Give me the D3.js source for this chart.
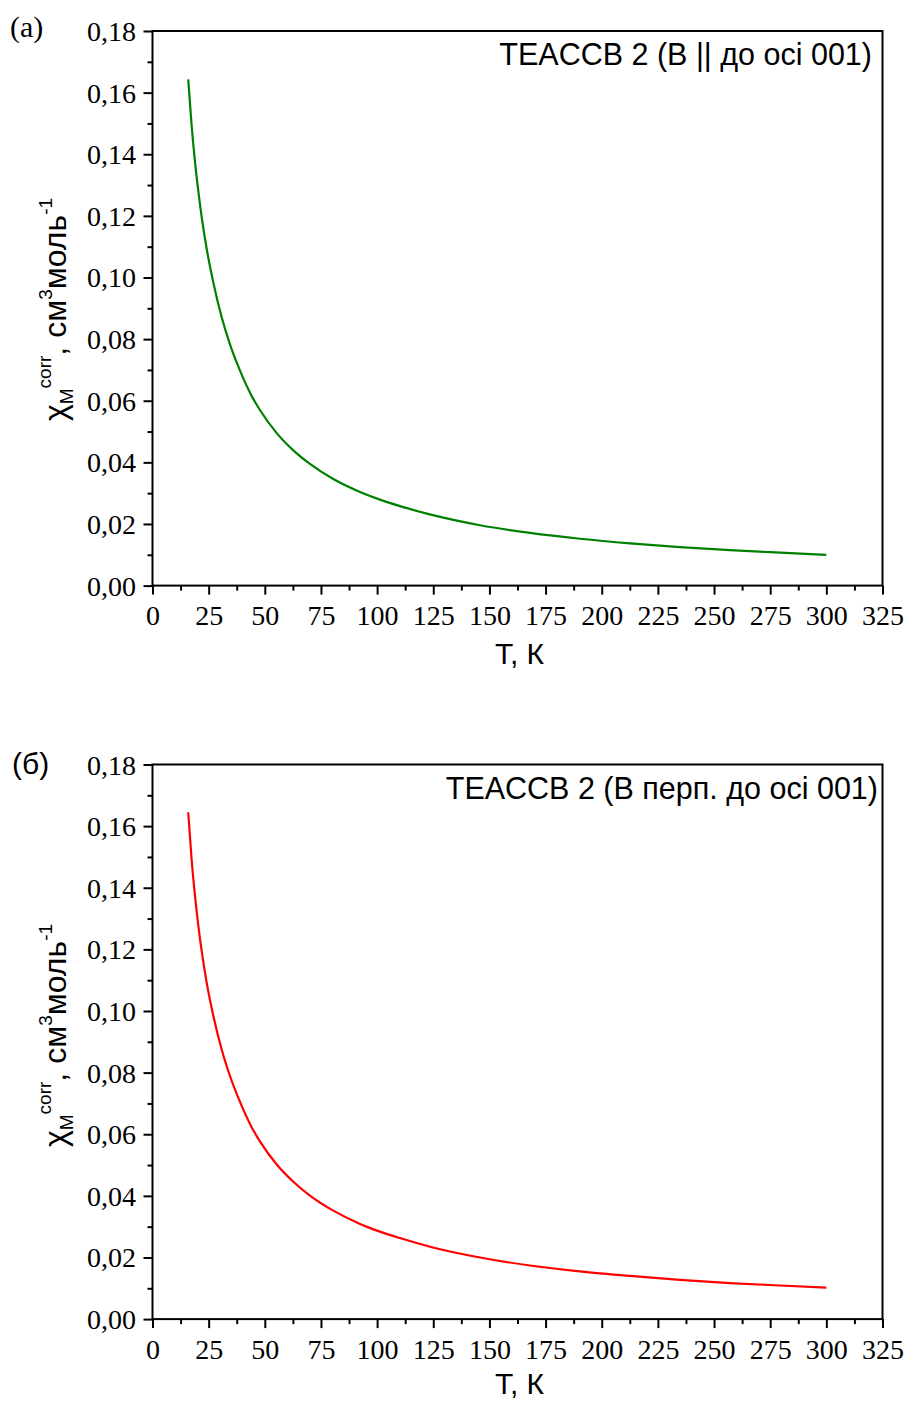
<!DOCTYPE html>
<html>
<head>
<meta charset="utf-8">
<script src="https://cdn.jsdelivr.net/npm/d3@7"></script>
<style>
  body { margin: 0; background: #fff; }
  svg { display: block; }
</style>
</head>
<body>
<svg id="chart" width="906" height="1401"></svg>
<script>
// Temperature (K) and corrected molar susceptibility (cm^3/mol), field parallel to the 001 axis
const tempA = [15.9, 17.4, 18.9, 20.4, 21.9, 24.1, 27.1, 30.8, 34.5, 39.0, 44.2, 47.9, 55.3, 62.7, 70.1, 80.5, 92.4, 101.3, 110.2, 123.5, 145.8, 168.1, 190.3, 212.6, 234.8, 257.1, 279.4, 300.0];
const chiA  = [0.1643, 0.1495, 0.1377, 0.1280, 0.1196, 0.1094, 0.0983, 0.0871, 0.0783, 0.0697, 0.0615, 0.0569, 0.0495, 0.0439, 0.0395, 0.0346, 0.0304, 0.0279, 0.0258, 0.0231, 0.0196, 0.0171, 0.0152, 0.0137, 0.0125, 0.0115, 0.0107, 0.0100];

// Same sample, field perpendicular to the 001 axis
const tempB = [15.9, 17.4, 18.9, 20.4, 21.9, 24.1, 27.1, 30.8, 34.5, 39.0, 44.2, 47.9, 55.3, 62.7, 70.1, 80.5, 92.4, 101.3, 110.2, 123.5, 145.8, 168.1, 190.3, 212.6, 234.8, 257.1, 279.4, 300.0];
const chiB  = [0.1645, 0.1493, 0.1375, 0.1277, 0.1194, 0.1093, 0.0984, 0.0875, 0.0789, 0.0704, 0.0622, 0.0576, 0.0502, 0.0446, 0.0401, 0.0352, 0.0309, 0.0284, 0.0263, 0.0235, 0.0200, 0.0174, 0.0155, 0.0140, 0.0127, 0.0117, 0.0109, 0.0102];

const xTicks = [0, 25, 50, 75, 100, 125, 150, 175, 200, 225, 250, 275, 300, 325];
const xMinorTicks = [12.5, 37.5, 62.5, 87.5, 112.5, 137.5, 162.5, 187.5, 212.5, 237.5, 262.5, 287.5, 312.5];
const yTicks = [0, 0.02, 0.04, 0.06, 0.08, 0.10, 0.12, 0.14, 0.16, 0.18];
const yMinorTicks = [0.01, 0.03, 0.05, 0.07, 0.09, 0.11, 0.13, 0.15, 0.17];

const panelTags = ["(a)", "(б)"];
const legendTexts = ["TEACCB 2 (B || до осі 001)", "TEACCB 2 (B перп. до осі 001)"];
const xTitle = "T, К";
const seriesColors = ["#008000", "#ff0000"];

const svg = d3.select("#chart");
const SERIF = "'Liberation Serif', 'Times New Roman', serif";
const SANS = "'Liberation Sans', Arial, sans-serif";

const plotLeft = 152.5, plotRight = 882.5, plotHeight = 554.6;
const fmtTick = v => d3.format(".2f")(v).replace(".", ",");

function drawPanel(opt) {
  const top = opt.top;
  const x = d3.scaleLinear().domain([0, 325]).range([plotLeft, plotRight]);
  const y = d3.scaleLinear().domain([0, 0.18]).range([top + plotHeight, top]);
  const g = svg.append("g");

  // data curve
  const pts = opt.temps.map((t, i) => [t, opt.chis[i]]);
  g.append("path")
    .datum(pts)
    .attr("fill", "none")
    .attr("stroke", opt.color)
    .attr("stroke-width", 2.2)
    .attr("stroke-linejoin", "round")
    .attr("d", d3.line().x(d => x(d[0])).y(d => y(d[1])).curve(d3.curveMonotoneX));

  // major x ticks with labels
  const gx = g.append("g")
    .attr("transform", `translate(0,${top + plotHeight})`)
    .call(d3.axisBottom(x).tickValues(xTicks).tickSize(9).tickSizeOuter(0).tickFormat(d3.format("d")));
  gx.select(".domain").remove();
  gx.selectAll(".tick line").attr("stroke", "#000").attr("stroke-width", 2);
  gx.selectAll(".tick text")
    .attr("y", 39.5).attr("dy", null)
    .attr("font-family", SERIF).attr("font-size", 28).attr("fill", "#000");

  // minor x ticks
  const gxm = g.append("g")
    .attr("transform", `translate(0,${top + plotHeight})`)
    .call(d3.axisBottom(x).tickValues(xMinorTicks).tickSize(5).tickSizeOuter(0).tickFormat(""));
  gxm.select(".domain").remove();
  gxm.selectAll(".tick line").attr("stroke", "#000").attr("stroke-width", 2);

  // major y ticks with labels
  const gy = g.append("g")
    .attr("transform", `translate(${plotLeft},0)`)
    .call(d3.axisLeft(y).tickValues(yTicks).tickSize(9).tickSizeOuter(0).tickFormat(fmtTick));
  gy.select(".domain").remove();
  gy.selectAll(".tick line").attr("stroke", "#000").attr("stroke-width", 2);
  gy.selectAll(".tick text")
    .attr("x", -16.5).attr("dy", 9.5)
    .attr("font-family", SERIF).attr("font-size", 28).attr("fill", "#000");

  // minor y ticks
  const gym = g.append("g")
    .attr("transform", `translate(${plotLeft},0)`)
    .call(d3.axisLeft(y).tickValues(yMinorTicks).tickSize(5).tickSizeOuter(0).tickFormat(""));
  gym.select(".domain").remove();
  gym.selectAll(".tick line").attr("stroke", "#000").attr("stroke-width", 2);

  // frame
  g.append("rect")
    .attr("x", plotLeft).attr("y", top)
    .attr("width", plotRight - plotLeft).attr("height", plotHeight)
    .attr("fill", "none").attr("stroke", "#000").attr("stroke-width", 2);

  // legend text
  g.append("text")
    .attr("x", opt.legendRight).attr("y", top + opt.legendDy)
    .attr("text-anchor", "end")
    .attr("font-family", SANS).attr("font-size", 30.5).attr("fill", "#000")
    .text(opt.legend);

  // panel tag
  g.append("text")
    .attr("x", opt.tagX).attr("y", opt.tagY)
    .attr("font-family", opt.tagFont).attr("font-size", 30).attr("fill", "#000")
    .text(opt.tag);

  // x axis title
  g.append("text")
    .attr("x", (plotLeft + plotRight) / 2 + 2).attr("y", top + plotHeight + opt.xTitleDy)
    .attr("text-anchor", "middle")
    .attr("font-family", SANS).attr("font-size", 30).attr("fill", "#000")
    .text(xTitle);

  // y axis title: chi_M^corr, cm^3 mol^-1 (rotated)
  const yt = g.append("text")
    .attr("transform", `translate(66,${opt.yTitleStart})rotate(-90)`)
    .attr("font-family", SANS).attr("font-size", 32).attr("fill", "#000");
  yt.append("tspan").text("χ");
  yt.append("tspan").attr("font-size", 19).attr("dy", 7).text("M");
  yt.append("tspan").attr("font-size", 19).attr("dy", -22).text("corr");
  yt.append("tspan").attr("dy", 15).text(", см");
  yt.append("tspan").attr("font-size", 19).attr("dy", -14).text("3");
  yt.append("tspan").attr("dy", 14).text("моль");
  yt.append("tspan").attr("font-size", 19).attr("dy", -14).text("-1");
}

drawPanel({
  top: 31, temps: tempA, chis: chiA, color: seriesColors[0],
  legend: legendTexts[0], legendRight: 872, legendDy: 34,
  tag: panelTags[0], tagFont: SERIF, tagX: 10, tagY: 37,
  yTitleStart: 421, xTitleDy: 78
});

drawPanel({
  top: 764.5, temps: tempB, chis: chiB, color: seriesColors[1],
  legend: legendTexts[1], legendRight: 878, legendDy: 34,
  tag: panelTags[1], tagFont: SANS, tagX: 12, tagY: 774,
  yTitleStart: 1147, xTitleDy: 74.5
});
</script>
</body>
</html>
